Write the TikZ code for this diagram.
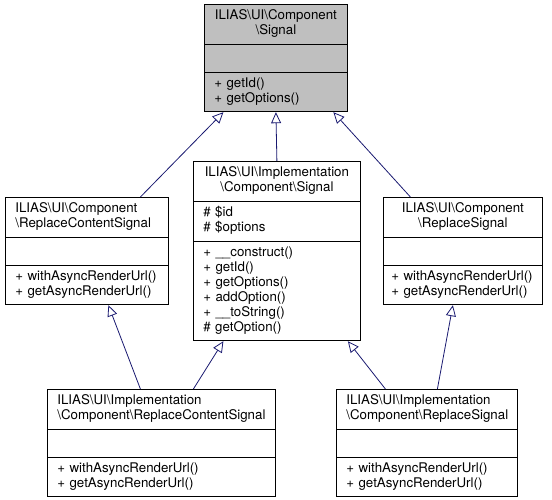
\documentclass[tikz,border=0pt]{standalone}
\usepackage{fontspec}
\setmainfont{TeX Gyre Heros}
\usetikzlibrary{shapes.multipart}
\usetikzlibrary{arrows.meta}

\definecolor{inhcolor}{HTML}{191970}
\definecolor{basegray}{HTML}{BFBFBF}

\newcommand{\bsl}{\textbackslash}
\newcommand{\emptypart}{\rule{0pt}{18pt}}
\hyphenpenalty=10000

\begin{document}
\begin{tikzpicture}[
  x=1pt, y=-1pt,
  every node/.style={font=\fontsize{13.3}{15}\selectfont},
  every path/.style={thick},
  umlclass/.style={draw, rectangle split, rectangle split parts=3,
    anchor=north west, inner xsep=10pt, inner ysep=4.5pt,
    text width=#1, align=left},
  based/.style={fill=basegray},
  inherit/.style={draw=inhcolor, -{Triangle[open, length=11pt, width=10pt]}}
  ]
    \useasboundingbox (0,0) rectangle (552,500);
    % base class
    \node[umlclass=123pt, based] (sig) at (204,4)
      {\centering\strut ILIAS\bsl UI\bsl Component\\\bsl Signal\strut\par
       \nodepart{two}\emptypart
       \nodepart{three}\strut + getId()\\+ getOptions()\strut};
    % interfaces
    \node[umlclass=143pt] (repc) at (5,197)
      {\strut ILIAS\bsl UI\bsl Component\\\bsl ReplaceContentSignal\strut
       \nodepart{two}\emptypart
       \nodepart{three}\strut + withAsyncRenderUrl()\\+ getAsyncRenderUrl()\strut};
    \node[umlclass=147pt] (impl) at (193,161)
      {\centering\strut ILIAS\bsl UI\bsl Implementation\\\bsl Component\bsl Signal\strut\par
       \nodepart{two}\strut\#~\$id\\\#~\$options\strut
       \nodepart{three}\strut + \_\_construct()\\+ getId()\\+ getOptions()\\+ addOption()\\+ \_\_toString()\\\#~getOption()\strut};
    \node[umlclass=143pt, inner xsep=8pt] (reps) at (383,197)
      {\centering\strut ILIAS\bsl UI\bsl Component\\\bsl ReplaceSignal\strut\par
       \nodepart{two}\emptypart
       \nodepart{three}\strut +~withAsyncRenderUrl()\\+~getAsyncRenderUrl()\strut};
    % implementations
    \node[umlclass=208pt] (irepc) at (47,389)
      {\strut ILIAS\bsl UI\bsl Implementation\\\bsl Component\bsl ReplaceContentSignal\strut
       \nodepart{two}\emptypart
       \nodepart{three}\strut + withAsyncRenderUrl()\\+ getAsyncRenderUrl()\strut};
    \node[umlclass=161pt] (ireps) at (336,389)
      {\strut ILIAS\bsl UI\bsl Implementation\\\bsl Component\bsl ReplaceSignal\strut
       \nodepart{two}\emptypart
       \nodepart{three}\strut + withAsyncRenderUrl()\\+ getAsyncRenderUrl()\strut};
    % inheritance
    \draw[inherit] ([xshift=53.5pt]repc.north) -- ([xshift=-52.5pt]sig.south);
    \draw[inherit] (impl.north) -- (sig.south);
    \draw[inherit] ([xshift=-52.5pt]reps.north) -- ([xshift=57.5pt]sig.south);
    \draw[inherit] ([xshift=-21pt]irepc.north) -- ([xshift=21.5pt]repc.south);
    \draw[inherit] ([xshift=32pt]irepc.north) -- ([xshift=-53.5pt]impl.south);
    \draw[inherit] ([xshift=-41.5pt]ireps.north) -- ([xshift=71pt]impl.south);
    \draw[inherit] ([xshift=10.5pt]ireps.north) -- ([xshift=-10pt]reps.south);
\end{tikzpicture}
\end{document}
